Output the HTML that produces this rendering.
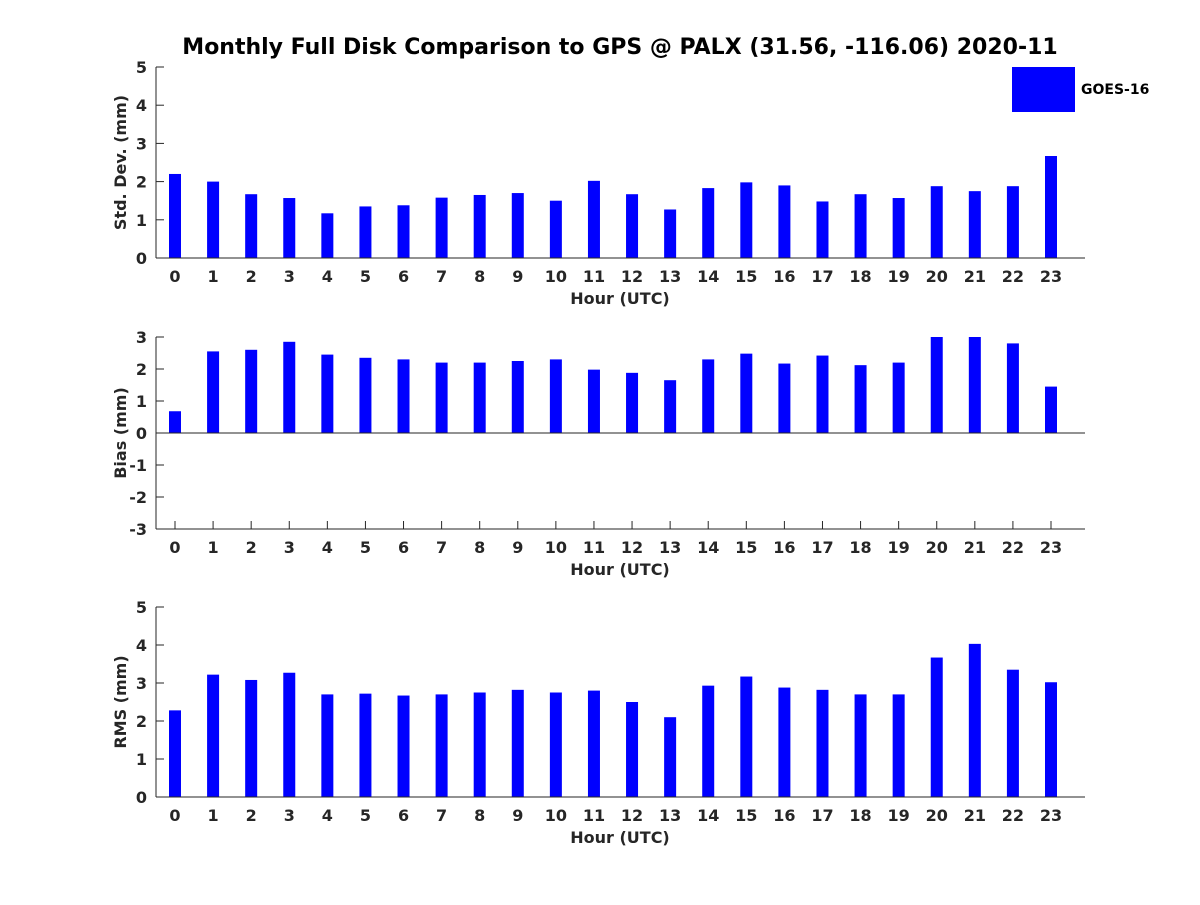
<!DOCTYPE html>
<html><head><meta charset="utf-8"><style>
html,body{margin:0;padding:0;background:#fff;}
svg text{font-family:"DejaVu Sans","Liberation Sans",sans-serif;font-weight:bold;fill:#262626;}
</style></head><body>
<svg id="chart" width="1200" height="900" xmlns="http://www.w3.org/2000/svg">
<text x="620" y="54" text-anchor="middle" font-size="22" style="fill:#000">Monthly Full Disk Comparison to GPS @ PALX (31.56, -116.06) 2020-11</text>
<rect x="1012" y="67" width="63" height="45" fill="#0000ff"/>
<text x="1081" y="94" font-size="14" style="fill:#000">GOES-16</text>
<g id="plots"></g>
</svg>
<script>
const hours = [0,1,2,3,4,5,6,7,8,9,10,11,12,13,14,15,16,17,18,19,20,21,22,23];
const stdDev = [2.2,2.0,1.67,1.57,1.17,1.35,1.38,1.58,1.65,1.7,1.5,2.02,1.67,1.27,1.83,1.98,1.9,1.48,1.67,1.57,1.88,1.75,1.88,2.67];
const bias = [0.68,2.55,2.6,2.85,2.45,2.35,2.3,2.2,2.2,2.25,2.3,1.98,1.88,1.65,2.3,2.48,2.17,2.42,2.12,2.2,3.0,3.0,2.8,1.45];
const rms = [2.28,3.22,3.08,3.27,2.7,2.72,2.67,2.7,2.75,2.82,2.75,2.8,2.5,2.1,2.93,3.17,2.88,2.82,2.7,2.7,3.67,4.03,3.35,3.02];
const stdTicks = [0,1,2,3,4,5];
const biasTicks = [-3,-2,-1,0,1,2,3];
const rmsTicks = [0,1,2,3,4,5];

const NS="http://www.w3.org/2000/svg";
const root=document.getElementById('plots');
function mk(tag,attrs,parent){const e=document.createElementNS(NS,tag);for(const k in attrs)e.setAttribute(k,attrs[k]);(parent||root).appendChild(e);return e;}
const X0=156,X1=1085;
function xs(h){return 175+(h-hours[0])*(1051-175)/23;}

function panel(name,vals,ticks,top,bottom,label){
  const g=mk('g',{});
  
  
  const ymin=ticks[0],ymax=ticks[ticks.length-1];
  const ys=v=>bottom-(v-ymin)*(bottom-top)/(ymax-ymin);
  const y0=ys(Math.max(0,ymin));
  hours.forEach(h=>{
    const x=xs(h);
    mk('line',{x1:x,y1:bottom,x2:x,y2:bottom-8,stroke:'#262626'},g);
    const tx=mk('text',{x:x,y:bottom+24,'text-anchor':'middle','font-size':16},g);
    tx.textContent=h;
    
    
  });
  vals.forEach((v,i)=>{
    const a=ys(v);
    const r=mk('rect',{x:xs(hours[i])-6,y:Math.min(a,y0),width:12,height:Math.abs(y0-a),fill:'#0000ff'},g);
    
    
  });
  const ya=mk('line',{x1:X0,y1:top,x2:X0,y2:bottom,stroke:'#262626','stroke-width':1},g);
  
  
  const xa=mk('line',{x1:X0,y1:bottom,x2:X1,y2:bottom,stroke:'#262626','stroke-width':1},g);
  
  
  if(ymin<0){
    const zl=mk('line',{x1:X0,y1:y0,x2:X1,y2:y0,stroke:'#262626','stroke-width':1},g);
    
    
  }
  ticks.forEach(t=>{
    const y=ys(t);
    mk('line',{x1:X0,y1:y,x2:X0+8,y2:y,stroke:'#262626'},g);
    const tx=mk('text',{x:147,y:y+6,'text-anchor':'end','font-size':16},g);
    tx.textContent=t;
    
    
  });
  const xt=mk('text',{x:620,y:bottom+46,'text-anchor':'middle','font-size':16},g);
  xt.textContent='Hour (UTC)';
  
  
  const cy=(top+bottom)/2;
  const yt=mk('text',{x:126,y:cy,'text-anchor':'middle','font-size':16,transform:'rotate(-90 126 '+cy+')'},g);
  yt.textContent=label;
  
  
}
panel('std-dev',stdDev,stdTicks,67,258,'Std. Dev. (mm)');
panel('bias',bias,biasTicks,337,529,'Bias (mm)');
panel('rms',rms,rmsTicks,607,797,'RMS (mm)');
</script>
</body></html>
